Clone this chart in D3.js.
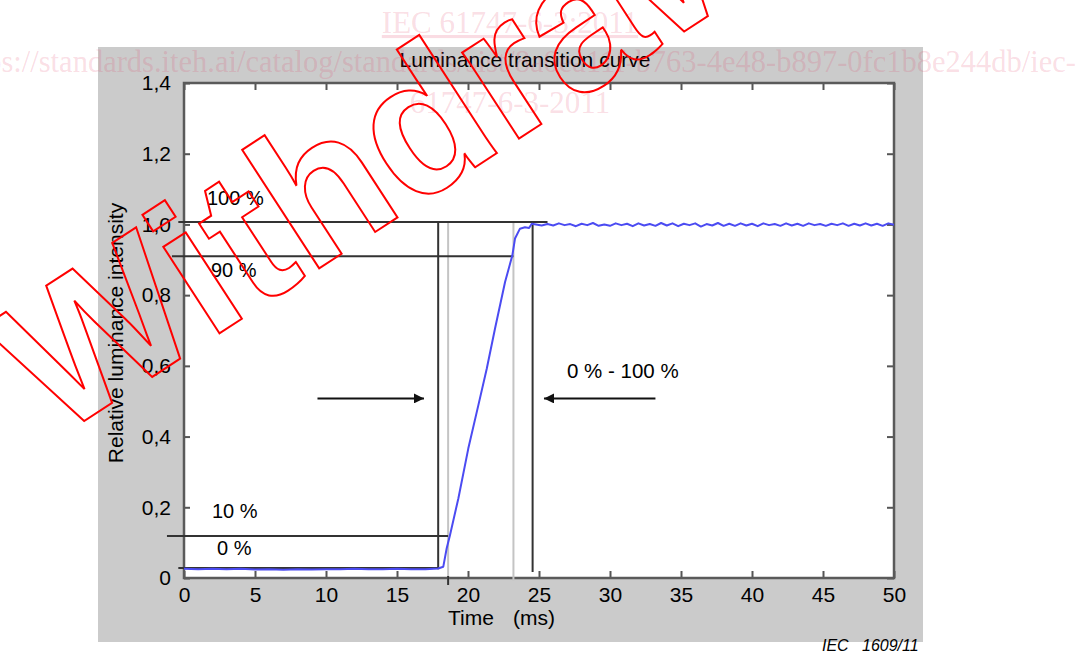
<!DOCTYPE html>
<html><head><meta charset="utf-8">
<script src="https://cdn.jsdelivr.net/npm/d3@7"></script>
<style>
body{margin:0;background:#fff;overflow:hidden;}
svg{display:block;}
text{font-family:"Liberation Sans",Arial,sans-serif;}
text.serif{font-family:"Liberation Serif","Times New Roman",serif;}
</style>
</head><body>
<svg id="chart" width="1079" height="653"></svg>
<script>
// ---------- data ----------
const xTicks = [0,5,10,15,20,25,30,35,40,45,50];
const yTicks = [0,0.2,0.4,0.6,0.8,1.0,1.2,1.4];
const yTickLabels = ["0","0,2","0,4","0,6","0,8","1,0","1,2","1,4"];

const curveTime = [0,1,2,3,4,5,6,7,8,9,10,11,12,13,14,15,16,17,17.9,18.26,18.5,18.73,19.32,20.02,20.73,21.32,21.9,22.61,23.12,23.31,23.66,24.01,24.3,24.49,25.19,
  25.6,26.0,26.4,26.8,27.2,27.6,28.0,28.4,28.8,29.2,29.6,30.0,30.4,30.8,31.2,31.6,32.0,32.4,32.8,33.2,33.6,34.0,34.4,34.8,35.2,35.6,36.0,36.4,36.8,37.2,37.6,38.0,38.4,38.8,39.2,39.6,40.0,40.4,40.8,41.2,41.6,42.0,42.4,42.8,43.2,43.6,44.0,44.4,44.8,45.2,45.6,46.0,46.4,46.8,47.2,47.6,48.0,48.4,48.8,49.2,49.6,50.0];
const curveValue = [0.026,0.025,0.026,0.025,0.026,0.024,0.025,0.023,0.025,0.024,0.025,0.025,0.026,0.025,0.025,0.026,0.025,0.025,0.027,0.032,0.084,0.121,0.225,0.366,0.489,0.592,0.705,0.837,0.912,0.96,0.988,0.992,0.99,1.002,0.997,
  1.001,0.997,1.003,0.998,1.001,0.995,1.002,0.998,1.004,0.996,1.000,0.996,1.003,0.998,1.002,0.995,1.003,0.997,1.001,0.996,1.004,0.997,1.003,0.995,1.002,0.998,1.003,0.994,1.001,0.997,1.004,0.996,1.002,0.996,1.003,0.997,1.002,0.995,1.003,0.998,1.001,0.996,1.003,0.997,1.002,0.996,1.003,0.998,1.001,0.996,1.002,0.998,1.003,0.996,1.002,0.997,1.003,0.997,1.002,0.996,1.003,0.999];

const levelNames  = ["0 %","10 %","90 %","100 %"];
const levelValues = [0.028,0.119,0.91,1.007];
const levelStart  = [-0.4,-1.2,-0.85,-0.4];
const levelEnd    = [17.9,18.6,23.2,25.6];

const darkMarkers = [17.9,24.55];
const darkMarkerBottom = [0.025,0.017];
const lightMarkers = [18.6,23.2];
const lightMarkerBottom = [-0.005,-0.007];
const markerTop = 1.01;

const arrowFrom = [9.4,33.2];
const arrowTo   = [16.9,25.35];
const arrowValue = 0.508;
const rangeLabel = "0 % - 100 %";

const titleText = "Luminance transition curve";
const yLabelText = "Relative luminance intensity";
const figureId = ["IEC","1609/11"];
const wmLines = ["IEC 61747-6-3:2011","https://standards.iteh.ai/catalog/standards/sist/8a0ea11f-b763-4e48-b897-0fc1b8e244db/iec-","61747-6-3-2011"];
const wmStamp = "Withdrawn";

// ---------- layout ----------
const svg = d3.select("#chart");
const P = {l:184, r:894, t:83, b:578};
const x = d3.scaleLinear().domain([0,50]).range([P.l,P.r]);
const y = d3.scaleLinear().domain([0,1.4]).range([P.b,P.t]);

// gray panel
svg.append("rect").attr("x",98).attr("y",47).attr("width",825).attr("height",595).attr("fill","#cbcbcb");
svg.append("rect").attr("x",P.l).attr("y",P.t).attr("width",P.r-P.l).attr("height",P.b-P.t).attr("fill","#fff");

// title
svg.append("text").attr("x",525).attr("y",67).attr("text-anchor","middle").attr("font-size",21).text(titleText);

// axes
const axStyle = g => {
  g.select(".domain").remove();
  g.selectAll(".tick line").attr("stroke","#555").attr("stroke-width",2);
  g.selectAll("text").attr("font-size",21).attr("fill","#000");
};
svg.append("g").attr("transform",`translate(0,${P.b})`)
  .call(d3.axisBottom(x).tickValues(xTicks).tickSize(-7).tickPadding(9)).call(axStyle);
svg.append("g").attr("transform",`translate(0,${P.t})`)
  .call(d3.axisTop(x).tickValues(xTicks).tickSize(-7).tickFormat("")).call(axStyle);
svg.append("g").attr("transform",`translate(${P.l},0)`)
  .call(d3.axisLeft(y).tickValues(yTicks).tickSize(-6).tickPadding(13).tickFormat((d,i)=>yTickLabels[i])).call(axStyle);
svg.append("g").attr("transform",`translate(${P.r},0)`)
  .call(d3.axisRight(y).tickValues(yTicks).tickSize(-7).tickFormat("")).call(axStyle);

// frame
svg.append("rect").attr("x",P.l).attr("y",P.t).attr("width",P.r-P.l).attr("height",P.b-P.t)
  .attr("fill","none").attr("stroke","#5a5a5a").attr("stroke-width",2.5);

// axis labels
svg.append("text").attr("transform",`translate(123,333) rotate(-90)`).attr("text-anchor","middle")
  .attr("font-size",21).text(yLabelText);
svg.append("text").attr("x",448).attr("y",625).attr("font-size",21).text("Time");
svg.append("text").attr("x",513).attr("y",625).attr("font-size",21).text("(ms)");

// light marker lines
svg.selectAll(".lm").data(lightMarkers).enter().append("line")
  .attr("x1",d=>x(d)).attr("x2",d=>x(d)).attr("y1",y(markerTop)).attr("y2",(d,i)=>y(lightMarkerBottom[i]))
  .attr("stroke","#c4c4c4").attr("stroke-width",2);
svg.append("line").attr("x1",x(lightMarkers[0])).attr("x2",x(lightMarkers[0]))
  .attr("y1",P.b-2).attr("y2",P.b+7).attr("stroke","#333").attr("stroke-width",2);

// level lines
svg.selectAll(".lv").data(levelValues).enter().append("line")
  .attr("x1",(d,i)=>x(levelStart[i])).attr("x2",(d,i)=>x(levelEnd[i]))
  .attr("y1",d=>y(d)).attr("y2",d=>y(d)).attr("stroke","#333").attr("stroke-width",2);

// dark marker lines
svg.selectAll(".dm").data(darkMarkers).enter().append("line")
  .attr("x1",d=>x(d)).attr("x2",d=>x(d)).attr("y1",y(markerTop)+1).attr("y2",(d,i)=>y(darkMarkerBottom[i]))
  .attr("stroke","#333").attr("stroke-width",2);

// level labels
const lblPos = [[217,-13],[212,-18],[211,21],[207,-17]];
svg.selectAll(".ll").data(levelNames).enter().append("text")
  .attr("x",(d,i)=>lblPos[i][0]).attr("y",(d,i)=>y(levelValues[i])+lblPos[i][1])
  .attr("font-size",20).text(d=>d);

// curve
const pts = curveTime.map((t,i)=>[t,curveValue[i]]);
svg.append("path").datum(pts)
  .attr("d",d3.line().x(d=>x(d[0])).y(d=>y(d[1])))
  .attr("fill","none").attr("stroke","#4b4bf2").attr("stroke-width",2).attr("stroke-linejoin","round");

// arrows
const defs = svg.append("defs");
defs.append("marker").attr("id","ah").attr("viewBox","0 0 10 10").attr("refX",10).attr("refY",5)
  .attr("markerWidth",20).attr("markerHeight",10).attr("markerUnits","userSpaceOnUse").attr("orient","auto")
  .append("path").attr("d","M0,0 L10,5 L0,10 Z").attr("fill","#111");
svg.selectAll(".ar").data(arrowFrom).enter().append("line")
  .attr("x1",d=>x(d)).attr("x2",(d,i)=>x(arrowTo[i]))
  .attr("y1",y(arrowValue)).attr("y2",y(arrowValue))
  .attr("stroke","#111").attr("stroke-width",2).attr("marker-end","url(#ah)");
svg.append("text").attr("x",x(26.97)).attr("y",y(0.565)).attr("font-size",20.5).text(rangeLabel);

// figure id
svg.append("text").attr("x",822).attr("y",651).attr("font-size",16).attr("font-style","italic").text(figureId[0]);
svg.append("text").attr("x",862).attr("y",651).attr("font-size",16).attr("font-style","italic").text(figureId[1]);

// watermark text
const wm = svg.append("g").attr("fill","rgba(225,60,100,0.18)");
wm.append("text").attr("class","serif").attr("x",510).attr("y",33).attr("text-anchor","middle").attr("font-size",31).attr("text-decoration","underline").text(wmLines[0]);
wm.append("text").attr("class","serif").attr("x",1076).attr("y",72).attr("text-anchor","end").attr("font-size",30.5).text(wmLines[1]);
wm.append("text").attr("class","serif").attr("x",510).attr("y",113).attr("text-anchor","middle").attr("font-size",31).text(wmLines[2]);

// red stamp outline
svg.append("text").attr("transform","translate(55,440) rotate(-33)")
  .attr("font-size",195).attr("font-weight","bold").attr("fill","none").attr("stroke","#f00").attr("stroke-width",2)
  .text(wmStamp);
</script>
</body></html>
